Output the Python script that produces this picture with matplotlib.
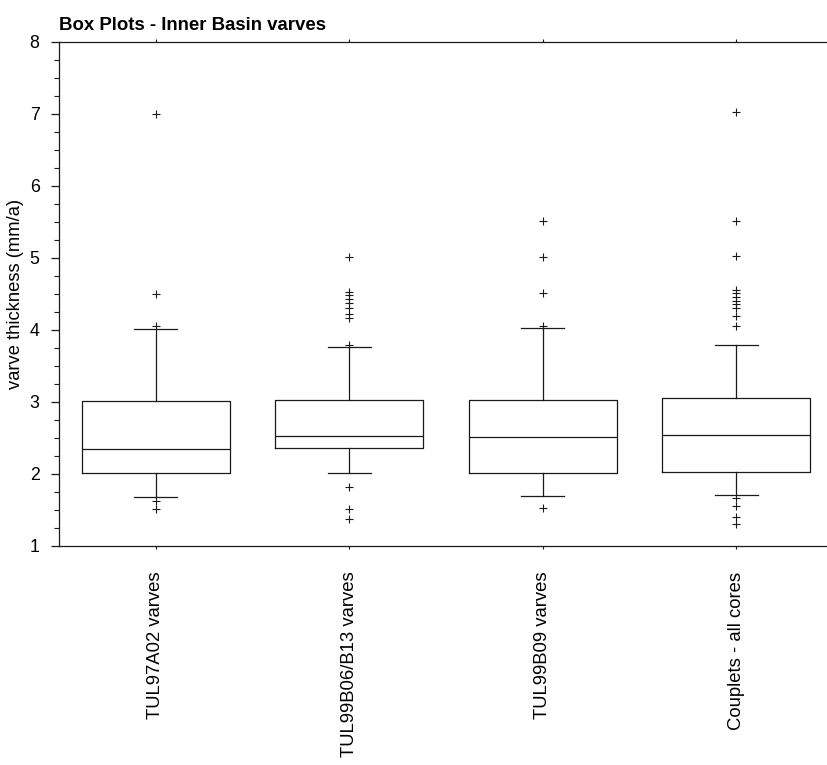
import matplotlib
matplotlib.use("Agg")
import matplotlib.pyplot as plt
from matplotlib.ticker import MultipleLocator

plt.rcParams['font.family'] = ['Liberation Sans', 'DejaVu Sans']

# ==============================
# 数据（从图中读取的箱线图统计量）
# ==============================
labels = ['TUL97A02 varves', 'TUL99B06/B13 varves', 'TUL99B09 varves', 'Couplets - all cores']
medians = [2.35, 2.53, 2.52, 2.54]
q1 = [2.02, 2.36, 2.02, 2.03]
q3 = [3.02, 3.03, 3.03, 3.05]
whis_lo = [1.68, 2.02, 1.70, 1.71]
whis_hi = [4.02, 3.76, 4.03, 3.79]
fliers_a02 = [7.0, 4.50, 4.06, 1.63, 1.51]
fliers_b06 = [5.02, 4.53, 4.48, 4.43, 4.38, 4.30, 4.22, 4.17, 3.79, 1.82, 1.52, 1.37]
fliers_b09 = [5.52, 5.02, 4.52, 4.06, 1.53]
fliers_all = [7.03, 5.52, 5.03, 4.56, 4.51, 4.46, 4.40, 4.36, 4.30, 4.19, 4.06,
              1.67, 1.56, 1.40, 1.31]
fliers = [fliers_a02, fliers_b06, fliers_b09, fliers_all]

stats = []
for i, lab in enumerate(labels):
    stats.append(dict(label=lab, med=medians[i], q1=q1[i], q3=q3[i],
                      whislo=whis_lo[i], whishi=whis_hi[i], fliers=fliers[i]))

# ==============================
# 绘图
# ==============================
ink = '#1a1a1a'
fig = plt.figure(figsize=(8.27, 7.65), dpi=100)
ax = fig.add_axes([59 / 827, 1 - 546 / 765, 774 / 827, 504 / 765])

line = dict(color=ink, linewidth=0.9)
ax.bxp(stats, positions=[1, 2, 3, 4], widths=0.765, capwidths=0.22,
       boxprops=line, whiskerprops=line, capprops=line, medianprops=line,
       flierprops=dict(marker='+', markersize=6, markeredgecolor=ink,
                       markeredgewidth=0.8, linestyle='none'))

ax.set_xlim(0.5, 4.5)
ax.set_ylim(1, 8)
ax.yaxis.set_major_locator(MultipleLocator(1))
ax.yaxis.set_minor_locator(MultipleLocator(0.25))
ax.tick_params(axis='y', which='major', direction='out', length=6, width=0.9,
               color=ink, labelsize=12.8, pad=8)
ax.tick_params(axis='y', which='minor', direction='out', length=3.5, width=0.8, color=ink)
ax.tick_params(axis='x', which='major', direction='out', length=2.5, width=0.8,
               color=ink, top=True, labelsize=13.3, pad=16)
ax.set_xticks([1, 2, 3, 4])
ax.set_xticklabels(labels, rotation=90, va='top', ha='center')

for side in ['left', 'bottom', 'top']:
    ax.spines[side].set_color(ink)
    ax.spines[side].set_linewidth(0.9)
ax.spines['right'].set_visible(False)

ax.set_ylabel('varve thickness (mm/a)', fontsize=13.2, labelpad=4)
ax.set_title('Box Plots - Inner Basin varves', loc='left', fontsize=13.4,
             fontweight='bold', pad=9)

plt.savefig('out.png', dpi=100)
